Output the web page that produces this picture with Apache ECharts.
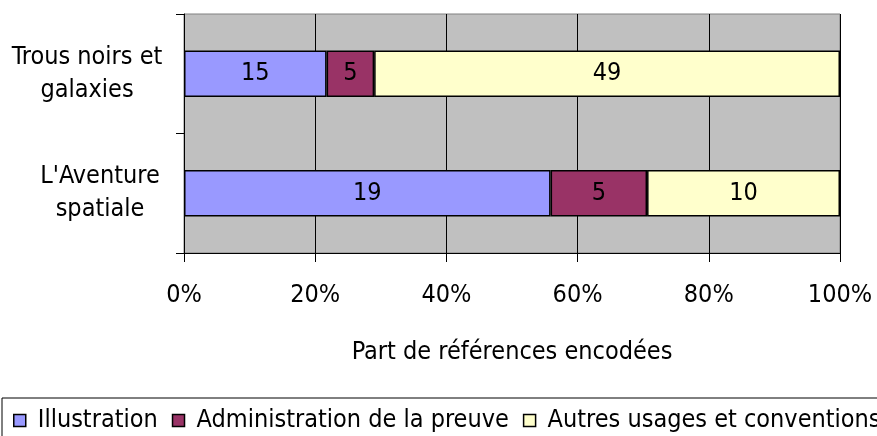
<!DOCTYPE html>
<html>
<head>
<meta charset="utf-8">
<script src="https://cdn.jsdelivr.net/npm/echarts@6/dist/echarts.min.js"></script>
<style>
  html, body { margin: 0; padding: 0; background: #fff; }
  #chart { width: 877px; height: 436px; }
</style>
</head>
<body>
<div id="chart"></div>
<script>
// Références encodées par ouvrage et par type d'usage
const categories = ["Trous noirs et galaxies", "L'Aventure spatiale"];
const seriesNames = ["Illustration", "Administration de la preuve", "Autres usages et conventions"];
const illustration = [15, 19];
const administration = [5, 5];
const autres = [49, 10];
const xTicks = [0, 20, 40, 60, 80, 100];

const counts = [illustration, administration, autres];
const colors = ['#9999FF', '#993366', '#FFFFCC'];
const FONT = '"DejaVu Sans Condensed", "DejaVu Sans", sans-serif';
const FS = 25;

// totals per category, used to turn counts into shares
const totals = categories.map((_, i) => counts.reduce((s, arr) => s + arr[i], 0));

const series = seriesNames.map((name, k) => ({
  name,
  type: 'bar',
  stack: 'total',
  barWidth: '39%',
  itemStyle: { color: colors[k], borderColor: '#000', borderWidth: 1.5 },
  label: {
    show: true,
    position: 'inside',
    color: '#000',
    fontFamily: FONT,
    fontSize: FS,
    formatter: p => String(counts[k][p.dataIndex])
  },
  data: counts[k].map((v, i) => v / totals[i] * 100)
}));

// two-line category labels; lines centred on each other
const labelLines = {
  "Trous noirs et galaxies": ['Trous noirs et', 'galaxies', 'a'],
  "L'Aventure spatiale": ["L'Aventure", 'spatiale', 'b']
};

const chart = echarts.init(document.getElementById('chart'), null, { renderer: 'canvas' });
chart.setOption({
  animation: false,
  backgroundColor: '#fff',
  grid: {
    left: 184, right: 37, top: 14, bottom: 183,
    show: true, backgroundColor: '#C0C0C0', borderColor: '#808080', borderWidth: 1
  },
  xAxis: {
    type: 'value',
    min: xTicks[0], max: xTicks[xTicks.length - 1], interval: 20,
    axisLine: { show: true, lineStyle: { color: '#000', width: 1 } },
    axisTick: { show: true, length: 9, lineStyle: { color: '#000' } },
    splitLine: { show: true, lineStyle: { color: '#000', width: 1 } },
    axisLabel: {
      formatter: '{value}%', color: '#000', fontFamily: FONT, fontSize: FS, margin: 30
    },
    name: 'Part de références encodées',
    nameLocation: 'middle',
    nameGap: 87,
    nameTextStyle: { color: '#000', fontFamily: FONT, fontSize: FS }
  },
  yAxis: {
    type: 'category',
    inverse: true,
    data: categories,
    axisLine: { show: true, lineStyle: { color: '#000', width: 1 } },
    axisTick: { show: true, length: 8, lineStyle: { color: '#000' } },
    splitLine: { show: false },
    axisLabel: {
      align: 'center',
      margin: 84,
      color: '#000',
      fontFamily: FONT,
      fontSize: FS,
      lineHeight: 33,
      formatter: v => {
        const l = labelLines[v];
        return '{' + l[2] + '|' + l[0] + '}\n{' + l[2] + '|' + l[1] + '}';
      },
      rich: {
        a: { fontFamily: FONT, fontSize: FS, color: '#000', lineHeight: 33, padding: [0, 26, 0, 0] },
        b: { fontFamily: FONT, fontSize: FS, color: '#000', lineHeight: 33, padding: [0, 0, 0, 0] }
      }
    }
  },
  legend: {
    left: 2, top: 398,
    width: 1000,
    padding: [10, 11, 10, 11],
    itemGap: 14,
    itemWidth: 12, itemHeight: 12,
    icon: 'rect',
    borderColor: '#000', borderWidth: 1,
    itemStyle: { borderColor: '#000', borderWidth: 1.5 },
    textStyle: { color: '#000', fontFamily: FONT, fontSize: FS, padding: [0, 0, 0, 7] },
    data: seriesNames
  },
  series
});
</script>
</body>
</html>
